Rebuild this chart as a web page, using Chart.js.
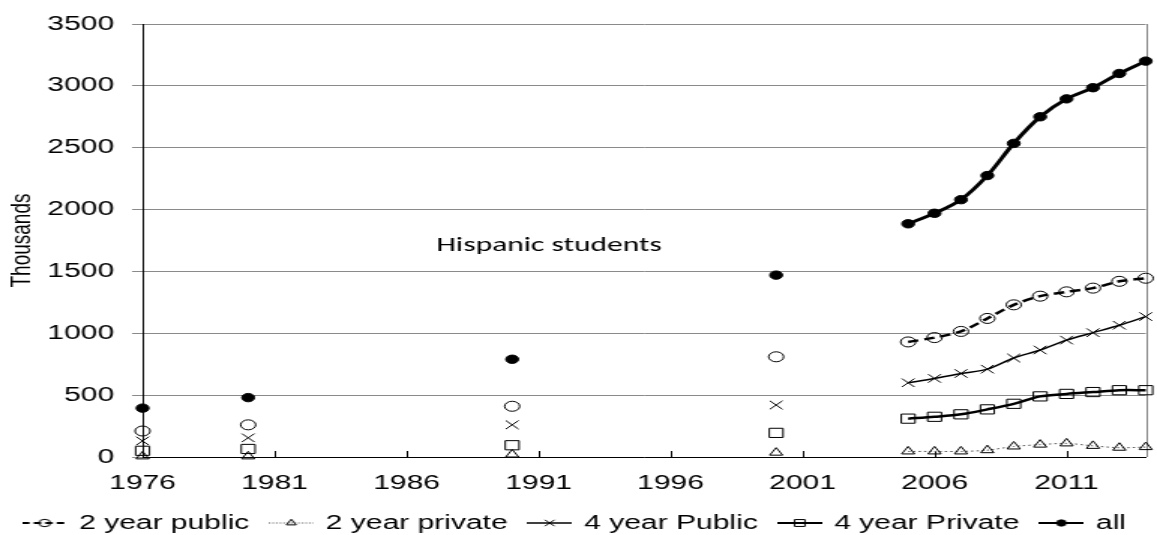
<!DOCTYPE html>
<html>
<head>
<meta charset="utf-8">
<script src="https://cdn.jsdelivr.net/npm/chart.js@4/dist/chart.umd.min.js"></script>
<style>
  html, body { margin: 0; background: #fff; }
  canvas { display: block; }
</style>
</head>
<body>
<!-- the original picture is stretched sideways, so the canvas is drawn narrow and widened by css -->
<canvas id="chart-body" width="771" height="535" style="width:1157px;height:535px"></canvas>
<script>
const surveyYears = [1976, 1980, 1990, 2000];
const annualYears = [2005, 2006, 2007, 2008, 2009, 2010, 2011, 2012, 2013, 2014];
const xTickYears = [1976, 1981, 1986, 1991, 1996, 2001, 2006, 2011];

const seriesNames = ['2 year public', '2 year private', '4 year Public', '4 year Private', 'all'];

// thousands of students
const twoYearPublicSurvey = [210, 260, 410, 810];
const twoYearPublicAnnual = [930, 965, 1015, 1120, 1230, 1300, 1335, 1365, 1420, 1445];
const twoYearPrivateSurvey = [5, 5, 20, 35];
const twoYearPrivateAnnual = [45, 45, 45, 55, 85, 100, 110, 90, 75, 80];
const fourYearPublicSurvey = [130, 155, 260, 420];
const fourYearPublicAnnual = [600, 635, 675, 710, 800, 865, 945, 1005, 1065, 1135];
const fourYearPrivateSurvey = [50, 65, 95, 195];
const fourYearPrivateAnnual = [310, 325, 345, 385, 430, 490, 510, 525, 540, 540];
const allSurvey = [395, 480, 790, 1470];
const allAnnual = [1885, 1970, 2080, 2275, 2535, 2750, 2895, 2985, 3100, 3200];

const noteText = 'Hispanic students';
const noteAt = { x: 1991.4, y: 1710 };

const FONT = "'Liberation Sans', Arial, sans-serif";

// survey points stand alone, the annual points are joined
function points(survey, annual) {
    const out = [];
    survey.forEach((v, i) => {
        out.push({ x: surveyYears[i], y: v });
        out.push({ x: null, y: null });
    });
    annual.forEach((v, i) => out.push({ x: annualYears[i], y: v }));
    return out;
}

const styles = [
    { line: '#000', width: 2.5, dash: [7, 4], point: 'circle', radius: 5, fill: 'rgba(0,0,0,0)' },
    { line: '#555', width: 1, dash: [1.5, 2], point: 'triangle', radius: 5, fill: 'rgba(0,0,0,0)' },
    { line: '#000', width: 1.5, dash: [], point: 'crossRot', radius: 6, fill: 'rgba(0,0,0,0)' },
    { line: '#000', width: 2.5, dash: [], point: 'rect', radius: 6.5, fill: 'rgba(0,0,0,0)' },
    { line: '#000', width: 3, dash: [], point: 'circle', radius: 4.2, fill: '#000' }
];

const seriesData = [
    points(twoYearPublicSurvey, twoYearPublicAnnual),
    points(twoYearPrivateSurvey, twoYearPrivateAnnual),
    points(fourYearPublicSurvey, fourYearPublicAnnual),
    points(fourYearPrivateSurvey, fourYearPrivateAnnual),
    points(allSurvey, allAnnual)
];

function legendIcon(s) {
    const c = document.createElement('canvas');
    c.width = 30;
    c.height = 14;
    const g = c.getContext('2d');
    g.strokeStyle = s.line;
    g.lineWidth = Math.min(s.width, 2);
    g.setLineDash(s.dash.length ? s.dash.map(d => d * 0.7) : []);
    g.beginPath();
    g.moveTo(0, 7);
    g.lineTo(30, 7);
    g.stroke();
    g.setLineDash([]);
    g.strokeStyle = '#000';
    g.fillStyle = s.fill;
    g.lineWidth = 1;
    Chart.helpers.drawPoint(g, { pointStyle: s.point, radius: s.radius * 0.75, rotation: 0, borderWidth: 1 }, 15, 7);
    return c;
}

const axisExtras = {
    id: 'axisExtras',
    beforeDatasetsDraw(chart) {
        const { ctx, chartArea: a, scales: { x } } = chart;
        ctx.save();
        ctx.lineWidth = 1;
        ctx.strokeStyle = '#000';
        ctx.beginPath();
        x.ticks.forEach(t => {
            const px = Math.round(x.getPixelForValue(t.value)) + 0.5;
            ctx.moveTo(px, a.bottom);
            ctx.lineTo(px, a.bottom - 6);
        });
        ctx.stroke();
        ctx.strokeStyle = '#888';
        ctx.beginPath();
        ctx.moveTo(Math.round(a.right) + 0.5, a.top);
        ctx.lineTo(Math.round(a.right) + 0.5, a.bottom);
        ctx.stroke();
        ctx.restore();
    },
    afterDatasetsDraw(chart) {
        const { ctx, scales: { x, y } } = chart;
        ctx.save();
        ctx.fillStyle = '#000';
        ctx.font = "21px Carlito, Lato, sans-serif";
        ctx.textAlign = 'center';
        ctx.textBaseline = 'middle';
        ctx.fillText(noteText, x.getPixelForValue(noteAt.x), y.getPixelForValue(noteAt.y));
        ctx.restore();
    }
};

function initializeChart() {
    Chart.defaults.color = '#000';
    Chart.defaults.font.family = FONT;
    const ctx = document.getElementById('chart-body').getContext('2d');
    const icons = styles.map(legendIcon);

    window.chart = new Chart(ctx, {
        type: 'line',
        data: {
            datasets: seriesNames.map((name, i) => ({
                label: name,
                data: seriesData[i],
                borderColor: styles[i].line,
                borderWidth: styles[i].width,
                borderDash: styles[i].dash,
                pointStyle: styles[i].point,
                pointRadius: styles[i].radius,
                pointBorderColor: '#000',
                pointBackgroundColor: styles[i].fill,
                pointBorderWidth: 1,
                tension: 0.3,
                spanGaps: false,
                clip: false
            }))
        },
        options: {
            responsive: false,
            devicePixelRatio: 1,
            animation: false,
            layout: { padding: { top: 14, right: 4, left: 0, bottom: -8 } },
            scales: {
                x: {
                    type: 'linear',
                    min: 1976,
                    max: 2014,
                    afterBuildTicks: scale => { scale.ticks = xTickYears.map(v => ({ value: v })); },
                    afterFit: scale => { scale.height = 41; },
                    grid: { display: false, drawTicks: false },
                    border: { display: true, color: '#000', width: 1 },
                    ticks: { font: { size: 20 }, padding: 14, maxRotation: 0, autoSkip: false, callback: v => String(v) }
                },
                y: {
                    min: 0,
                    max: 3500,
                    afterFit: scale => { scale.width = 95; },
                    ticks: { stepSize: 500, font: { size: 20 }, padding: 12, callback: v => String(v) },
                    grid: { color: '#8a8a8a', lineWidth: 1, tickLength: 7 },
                    border: { color: '#000', width: 1 },
                    title: { display: true, text: 'Thousands', font: { size: 19 }, padding: { top: 3, bottom: 0 } }
                }
            },
            plugins: {
                legend: {
                    position: 'bottom',
                    labels: {
                        usePointStyle: true,
                        pointStyleWidth: 26,
                        padding: 15,
                        color: '#000',
                        font: { size: 20 },
                        generateLabels: chart => chart.data.datasets.map((ds, i) => ({
                            text: ds.label,
                            pointStyle: icons[i],
                            datasetIndex: i,
                            fontColor: '#000',
                            fillStyle: 'rgba(0,0,0,0)',
                            strokeStyle: 'rgba(0,0,0,0)',
                            lineWidth: 0,
                            hidden: false
                        }))
                    }
                },
                tooltip: { enabled: false }
            }
        },
        plugins: [axisExtras]
    });
}

initializeChart();
</script>
</body>
</html>
